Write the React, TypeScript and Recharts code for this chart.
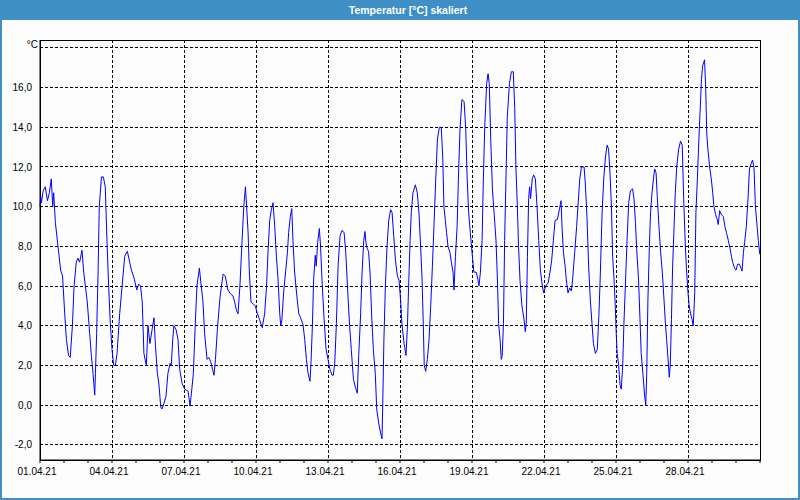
import React from "react";
import { LineChart, Line, XAxis, YAxis, CartesianGrid, ReferenceArea } from "recharts";

// hourly-ish temperature readings, [days since 01.04.21 00:00, °C]
const temperatures: [number, number][] = [
  [0, 10.0], [0.03, 10.5], [0.06, 10.2], [0.13, 10.8], [0.22, 11.0], [0.31, 10.3], [0.39, 10.7], [0.47, 11.4],
  [0.53, 10.0], [0.57, 10.7], [0.64, 9.2], [0.75, 8.0], [0.86, 6.8], [0.94, 6.5], [1.03, 4.6], [1.1, 3.3],
  [1.19, 2.5], [1.26, 2.4], [1.35, 4.0], [1.42, 6.0], [1.51, 7.2], [1.58, 7.4], [1.65, 7.2], [1.75, 7.8],
  [1.82, 6.7], [1.89, 6.0], [1.97, 5.2], [2.07, 3.6], [2.14, 2.5], [2.21, 1.6], [2.28, 0.5], [2.31, 1.6],
  [2.36, 3.6], [2.42, 6.7], [2.47, 10.0], [2.56, 11.5], [2.64, 11.5], [2.72, 11.0], [2.79, 8.3], [2.86, 6.0],
  [2.93, 4.1], [3.0, 2.8], [3.07, 2.0], [3.14, 2.0], [3.21, 2.6], [3.32, 4.6], [3.42, 6.0], [3.53, 7.5],
  [3.64, 7.75], [3.72, 7.3], [3.81, 6.8], [3.92, 6.4], [4.03, 5.8], [4.11, 6.1], [4.19, 6.0], [4.26, 5.2],
  [4.33, 2.6], [4.43, 2.0], [4.5, 4.0], [4.58, 3.1], [4.67, 3.8], [4.75, 4.4], [4.81, 3.0], [4.89, 1.6],
  [4.96, 1.0], [5.03, -0.1], [5.08, -0.2], [5.17, 0.1], [5.25, 0.45], [5.33, 1.6], [5.42, 2.1], [5.47, 2.0],
  [5.53, 3.3], [5.58, 4.0], [5.67, 3.8], [5.75, 3.3], [5.82, 1.8], [5.92, 1.1], [6.03, 0.8], [6.17, 0.7],
  [6.25, -0.05], [6.31, 0.6], [6.39, 1.6], [6.47, 4.1], [6.54, 6.0], [6.64, 6.9], [6.72, 6.0], [6.79, 5.2],
  [6.86, 3.6], [6.96, 2.3], [7.03, 2.4], [7.11, 2.2], [7.19, 1.8], [7.25, 1.5], [7.31, 2.3], [7.39, 3.8],
  [7.49, 5.3], [7.56, 6.0], [7.63, 6.6], [7.72, 6.5], [7.83, 5.8], [7.94, 5.6], [8.04, 5.5], [8.11, 5.2],
  [8.18, 4.8], [8.25, 4.6], [8.33, 6.0], [8.42, 8.3], [8.49, 10.0], [8.56, 11.0], [8.61, 10.0], [8.67, 8.7],
  [8.72, 6.8], [8.79, 5.2], [8.88, 5.1], [8.97, 5.0], [9.06, 4.6], [9.15, 4.3], [9.26, 3.9], [9.36, 4.6],
  [9.44, 6.0], [9.5, 7.7], [9.57, 9.3], [9.64, 9.85], [9.71, 10.2], [9.78, 9.0], [9.85, 7.5], [9.92, 6.3],
  [9.99, 4.6], [10.03, 4.0], [10.08, 4.3], [10.15, 5.65], [10.24, 6.8], [10.31, 7.7], [10.36, 8.7], [10.43, 9.5],
  [10.49, 9.9], [10.54, 8.3], [10.61, 6.7], [10.69, 5.65], [10.78, 4.6], [10.86, 4.4], [10.96, 4.05], [11.03, 3.3],
  [11.1, 2.3], [11.17, 1.6], [11.25, 1.2], [11.29, 2.1], [11.35, 4.0], [11.4, 6.3], [11.47, 7.55], [11.51, 7.0],
  [11.57, 8.2], [11.64, 8.9], [11.69, 8.0], [11.75, 6.3], [11.83, 4.5], [11.92, 2.8], [12.0, 2.3], [12.08, 1.8],
  [12.17, 1.5], [12.22, 1.5], [12.28, 2.1], [12.35, 4.1], [12.42, 7.0], [12.5, 8.5], [12.58, 8.8], [12.67, 8.7],
  [12.74, 7.7], [12.81, 6.0], [12.9, 4.0], [12.97, 2.8], [13.06, 1.3], [13.14, 0.9], [13.22, 0.6], [13.28, 2.5],
  [13.36, 4.6], [13.42, 6.7], [13.49, 8.3], [13.54, 8.75], [13.58, 8.2], [13.63, 7.9], [13.69, 7.75], [13.75, 6.7],
  [13.82, 4.5], [13.89, 2.8], [13.97, 1.6], [14.03, -0.2], [14.11, -0.9], [14.19, -1.4], [14.25, -1.7], [14.28, 0.0],
  [14.33, 3.3], [14.39, 6.0], [14.46, 8.0], [14.53, 9.3], [14.61, 9.85], [14.67, 9.7], [14.74, 8.5], [14.81, 7.3],
  [14.89, 6.5], [14.96, 6.3], [15.03, 5.2], [15.08, 4.1], [15.17, 3.1], [15.25, 2.5], [15.31, 4.0], [15.36, 6.0],
  [15.42, 8.3], [15.47, 9.7], [15.54, 10.7], [15.64, 11.1], [15.72, 10.7], [15.79, 9.7], [15.86, 8.0], [15.92, 6.3],
  [15.97, 4.1], [16.01, 2.0], [16.07, 1.7], [16.14, 2.3], [16.21, 3.3], [16.28, 5.0], [16.35, 7.0], [16.42, 9.2],
  [16.49, 11.4], [16.56, 13.4], [16.64, 14.0], [16.72, 14.0], [16.78, 12.5], [16.83, 10.0], [16.89, 9.3], [16.94, 8.7],
  [17.0, 8.0], [17.08, 7.7], [17.14, 7.2], [17.21, 6.7], [17.25, 5.8], [17.31, 7.5], [17.38, 9.0], [17.44, 11.7],
  [17.5, 13.9], [17.58, 15.4], [17.67, 15.3], [17.74, 13.9], [17.79, 11.7], [17.86, 9.7], [17.93, 8.7], [18.0, 7.7],
  [18.08, 6.7], [18.17, 6.7], [18.22, 6.5], [18.29, 6.0], [18.35, 6.7], [18.42, 8.3], [18.47, 11.2], [18.53, 14.0],
  [18.61, 16.2], [18.67, 16.7], [18.72, 16.2], [18.78, 13.4], [18.85, 10.9], [18.92, 9.7], [19.0, 8.3], [19.06, 6.3],
  [19.11, 4.1], [19.17, 3.3], [19.22, 2.3], [19.26, 2.5], [19.31, 4.1], [19.36, 8.3], [19.42, 11.7], [19.47, 14.5],
  [19.56, 16.2], [19.64, 16.8], [19.72, 16.8], [19.78, 15.0], [19.83, 12.0], [19.89, 10.0], [19.94, 8.0], [20.0, 6.3],
  [20.08, 5.0], [20.17, 4.3], [20.22, 3.7], [20.26, 4.1], [20.31, 7.5], [20.36, 10.4], [20.4, 11.0], [20.44, 10.4],
  [20.51, 11.4], [20.57, 11.6], [20.64, 11.4], [20.71, 10.0], [20.78, 8.3], [20.85, 6.8], [20.93, 6.0], [20.99, 5.65],
  [21.07, 6.0], [21.17, 6.15], [21.25, 6.7], [21.32, 7.3], [21.39, 8.3], [21.46, 9.3], [21.56, 9.35], [21.64, 9.85],
  [21.71, 10.3], [21.75, 9.0], [21.81, 7.7], [21.88, 7.0], [21.93, 6.3], [22.0, 5.65], [22.07, 5.9], [22.14, 5.75],
  [22.19, 6.3], [22.28, 7.7], [22.36, 9.0], [22.49, 11.4], [22.56, 12.0], [22.67, 12.0], [22.72, 11.2], [22.79, 9.5],
  [22.86, 7.0], [22.93, 5.3], [23.0, 4.1], [23.06, 3.1], [23.14, 2.6], [23.22, 2.8], [23.29, 4.6], [23.35, 6.7],
  [23.42, 9.7], [23.49, 11.4], [23.56, 12.5], [23.63, 13.1], [23.69, 12.9], [23.75, 11.7], [23.81, 10.0], [23.86, 7.5],
  [23.92, 6.3], [23.97, 5.0], [24.01, 3.6], [24.05, 2.6], [24.11, 2.0], [24.17, 1.0], [24.22, 0.8], [24.28, 2.0],
  [24.33, 4.1], [24.39, 6.0], [24.46, 8.3], [24.53, 10.2], [24.6, 10.8], [24.69, 10.9], [24.75, 10.4], [24.81, 9.2],
  [24.86, 7.9], [24.94, 6.3], [25.0, 4.3], [25.05, 2.6], [25.12, 1.6], [25.19, 0.5], [25.24, 0.0], [25.28, 1.6],
  [25.33, 5.3], [25.39, 8.0], [25.44, 9.7], [25.5, 10.7], [25.56, 11.4], [25.61, 11.9], [25.67, 11.7], [25.72, 10.5],
  [25.79, 9.0], [25.86, 7.7], [25.93, 6.7], [26.0, 5.3], [26.06, 4.1], [26.11, 3.3], [26.17, 2.3], [26.22, 1.4],
  [26.26, 2.0], [26.31, 4.3], [26.36, 7.0], [26.42, 9.0], [26.47, 10.7], [26.53, 12.0], [26.61, 12.9], [26.69, 13.3],
  [26.76, 13.1], [26.82, 10.4], [26.89, 8.0], [26.94, 6.8], [27.0, 5.65], [27.05, 5.0], [27.11, 4.6], [27.17, 4.3],
  [27.22, 4.0], [27.28, 5.65], [27.33, 9.7], [27.39, 11.4], [27.44, 13.0], [27.5, 14.7], [27.56, 16.4], [27.61, 17.1],
  [27.69, 17.4], [27.74, 15.9], [27.78, 13.7], [27.83, 12.9], [27.9, 12.0], [27.97, 11.4], [28.03, 10.7], [28.08, 10.0],
  [28.15, 9.6], [28.22, 9.35], [28.26, 9.1], [28.32, 9.8], [28.39, 9.6], [28.47, 9.5], [28.54, 9.0], [28.6, 8.7],
  [28.68, 8.3], [28.75, 7.9], [28.81, 7.5], [28.86, 7.2], [28.94, 6.9], [29.0, 6.8], [29.07, 7.1], [29.14, 7.1],
  [29.21, 6.9], [29.25, 6.75], [29.31, 7.7], [29.36, 8.2], [29.43, 9.0], [29.5, 10.4], [29.56, 11.9], [29.61, 12.1],
  [29.69, 12.35], [29.75, 11.95], [29.81, 10.0], [29.88, 9.0], [29.93, 8.3], [29.99, 7.6],
];

const dayTicks = [
  0, 1, 2, 3, 4, 5, 6, 7, 8, 9, 10, 11, 12, 13, 14, 15, 16, 17, 18, 19, 20, 21, 22, 23, 24, 25, 26, 27, 28, 29, 30,
];
const labelDays = [0, 3, 6, 9, 12, 15, 18, 21, 24, 27];
const dateLabels = [
  "01.04.21", "04.04.21", "07.04.21", "10.04.21", "13.04.21",
  "16.04.21", "19.04.21", "22.04.21", "25.04.21", "28.04.21",
];
const tempTicks = [-2, 0, 2, 4, 6, 8, 10, 12, 14, 16, 18];
const yMin = -2.77;
const yMax = 18.4;
const unitLabel = "°C";

const data = temperatures.map(([day, temp]) => ({ day, temp }));

const FONT = "'Liberation Sans', Arial, sans-serif";

function formatDay(day: number) {
  const i = labelDays.indexOf(day);
  return i >= 0 ? dateLabels[i] : "";
}

function TempTick(props: any) {
  const { x, y, payload } = props;
  if (payload.value === tempTicks[tempTicks.length - 1]) {
    return (
      <text x={x + 6} y={y - 3.5} dy="0.355em" textAnchor="end" fontSize={10} fontFamily={FONT} fill="#000">
        {unitLabel}
      </text>
    );
  }
  return (
    <text x={x} y={y} dy="0.355em" textAnchor="end" fontSize={10} fontFamily={FONT} fill="#000">
      {payload.value.toFixed(1).replace(".", ",")}
    </text>
  );
}

export default function App() {
  return (
    <div
      style={{
        position: "absolute",
        left: 0,
        top: 0,
        width: 800,
        height: 500,
        background: "#fcfdfc",
        boxSizing: "border-box",
        border: "2px solid #3d8fc6",
        borderTop: "none",
        overflow: "hidden",
      }}
    >
      <div
        style={{
          position: "absolute",
          left: -2,
          top: 0,
          width: 800,
          height: 20,
          background: "#3d8fc6",
          color: "#fff",
          fontFamily: FONT,
          fontWeight: "bold",
          fontSize: 10.5,
          lineHeight: "20px",
        }}
      >
        <span style={{ position: "absolute", left: 408, transform: "translateX(-50%)", whiteSpace: "nowrap" }}>
          Temperatur [°C] skaliert
        </span>
      </div>
      <div style={{ position: "absolute", left: -2, top: 0 }}>
        <LineChart width={800} height={500} data={data} margin={{ top: 40, right: 40, bottom: 10, left: 0 }}>
          <XAxis xAxisId="grid" dataKey="day" type="number" domain={[0, 30]} ticks={labelDays} hide />
          <CartesianGrid
            xAxisId="grid"
            stroke="#000"
            strokeDasharray="3 2"
            shapeRendering="crispEdges"
          />
          <XAxis
            dataKey="day"
            type="number"
            domain={[0, 30]}
            ticks={dayTicks}
            interval={0}
            tickFormatter={formatDay}
            height={30}
            tickSize={3}
            tickMargin={5}
            axisLine={{ stroke: "#000" }}
            tickLine={{ stroke: "#000" }}
            tick={{ fontSize: 10, fontFamily: FONT, fill: "#000", dx: -3 }}
          />
          <YAxis
            type="number"
            domain={[yMin, yMax]}
            ticks={tempTicks}
            interval={0}
            width={40}
            axisLine={{ stroke: "#000" }}
            tickLine={false}
            tick={<TempTick />}
          />
          <ReferenceArea
            x1={0}
            x2={30}
            y1={yMin}
            y2={yMax}
            fill="none"
            stroke="#000"
            strokeWidth={1}
            shapeRendering="crispEdges"
            ifOverflow="visible"
          />
          <Line
            dataKey="temp"
            type="linear"
            stroke="#0000ff"
            strokeWidth={1}
            dot={false}
            isAnimationActive={false}
          />
        </LineChart>
      </div>
    </div>
  );
}
